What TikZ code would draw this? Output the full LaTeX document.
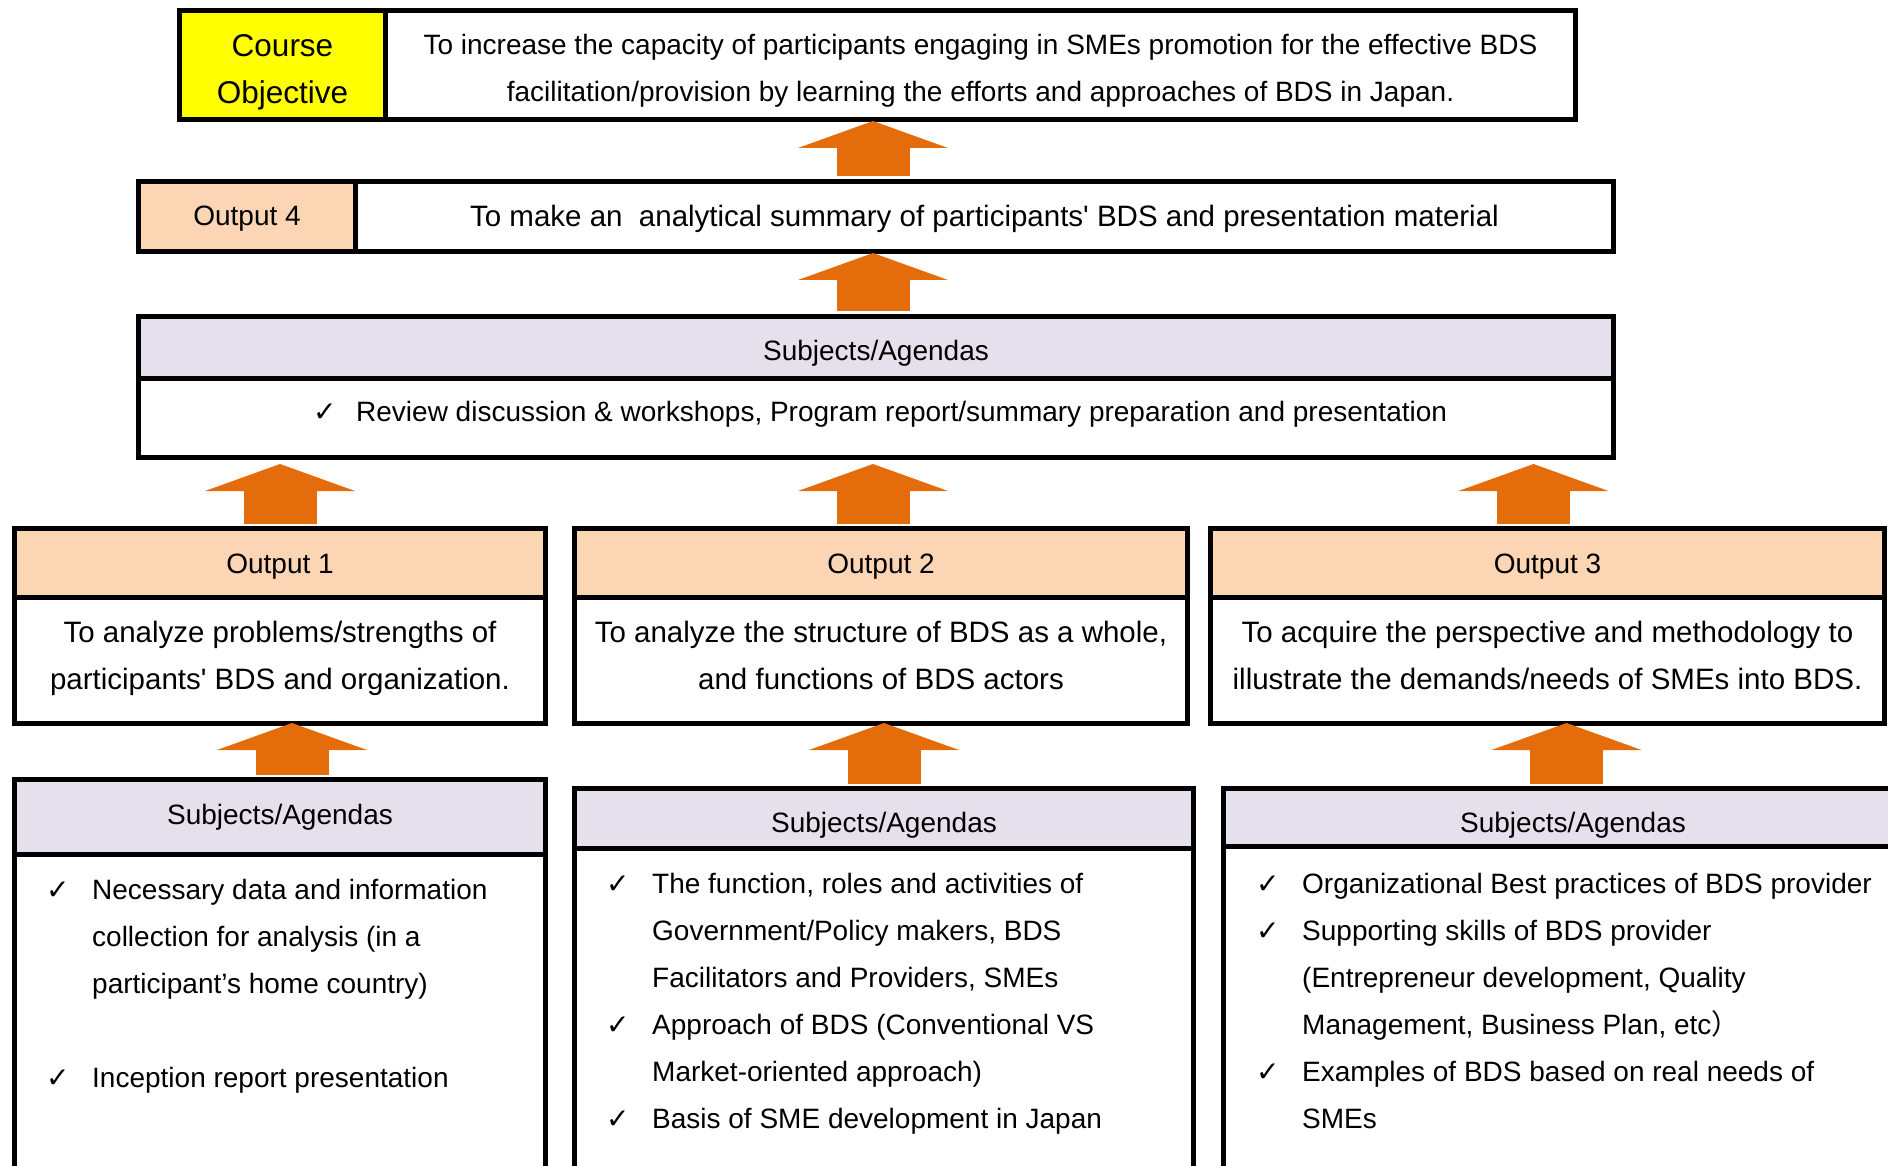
\documentclass[tikz,border=0pt]{standalone}
\usepackage{fontspec}
\setmainfont{Liberation Sans}
\newfontfamily\symfont{DejaVu Sans}
\newfontfamily\cjkfont{Noto Sans CJK JP}
\usetikzlibrary{arrows.meta}
\definecolor{objyellow}{HTML}{FFFF00}
\definecolor{outpeach}{HTML}{FCD5B5}
\definecolor{aglilac}{HTML}{E5E0EC}
\definecolor{arroworange}{HTML}{E46C0A}
\newcommand{\chk}{\makebox[46pt][l]{\symfont ✓}}
\newcommand{\ind}{\hspace*{46pt}}
\newcommand{\sq}{\textquotesingle}
\tikzset{
  box/.style={draw, line width=5pt, rectangle, inner sep=0pt, anchor=north west},
  txt/.style={inner sep=0pt, align=center},
  bigtxt/.style={txt, font=\fontsize{29.5}{47}\selectfont},
  bigarrow/.style={arroworange, line width=73pt, -{Triangle[width=150pt,length=27pt,line width=0pt]}, shorten <=2.5pt, shorten >=-1pt},
  list/.style={anchor=north west, inner sep=0pt, align=left}
}

\begin{document}
\begin{tikzpicture}[x=1pt,y=-1pt,font=\fontsize{28}{47}\selectfont]
\useasboundingbox (0,0) rectangle (1888,1166);
\clip (0,0) rectangle (1888,1166);
\coordinate (mid) at (873,0);

\node[box, fill=objyellow, minimum width=206pt, minimum height=109pt] (objhead) at (177,8) {};
\node[box, fill=white, minimum width=1190pt, minimum height=109pt] (objtext) at (383,8) {};
\node[txt, font=\fontsize{31.5}{47}\selectfont] (objheadtxt) at ([yshift=-7pt]objhead.center) {Course\\Objective};
\node[txt] (objtexttxt) at ([yshift=-6pt]objtext.center) {To increase the capacity of participants engaging in SMEs promotion for the effective BDS\\facilitation/provision by learning the efforts and approaches of BDS in Japan.};

\node[box, fill=outpeach, minimum width=217pt, minimum height=70pt] (out4head) at (136,179) {};
\node[box, fill=white, minimum width=1258pt, minimum height=70pt] (out4text) at (353,179) {};
\node[txt] (out4headtxt) at ([yshift=-2.5pt]out4head.center) {Output 4};
\node[bigtxt] (out4texttxt) at ([yshift=-2.5pt]out4text.center) {To make an \ analytical summary of participants\sq{} BDS and presentation material};

\node[box, fill=aglilac, minimum width=1475pt, minimum height=62pt] (agmidhead) at (136,314) {};
\node[box, fill=white, minimum width=1475pt, minimum height=79pt] (agmidbody) at (136,376) {};
\node[txt] (agmidheadtxt) at ([yshift=-6pt]agmidhead.center) {Subjects/Agendas};
\node[anchor=west, inner sep=0pt] (agmidtext) at (313,414.5) {\makebox[43pt][l]{\symfont ✓}Review discussion \& workshops, Program report/summary preparation and presentation};

\node[box, fill=outpeach, minimum width=531pt, minimum height=69pt] (out1head) at (12,526) {};
\node[box, fill=white, minimum width=531pt, minimum height=126pt] (out1body) at (12,595) {};
\node[box, fill=outpeach, minimum width=613pt, minimum height=69pt] (out2head) at (572,526) {};
\node[box, fill=white, minimum width=613pt, minimum height=126pt] (out2body) at (572,595) {};
\node[box, fill=outpeach, minimum width=674pt, minimum height=69pt] (out3head) at (1208,526) {};
\node[box, fill=white, minimum width=674pt, minimum height=126pt] (out3body) at (1208,595) {};
\node[txt] (out1headtxt) at ([yshift=-3.5pt]out1head.center) {Output 1};
\node[txt] (out2headtxt) at ([yshift=-3.5pt]out2head.center) {Output 2};
\node[txt] (out3headtxt) at ([yshift=-3.5pt]out3head.center) {Output 3};
\node[bigtxt] (out1bodytxt) at ([yshift=2.5pt]out1body.center) {To analyze problems/strengths of\\participants\sq{} BDS and organization.};
\node[bigtxt] (out2bodytxt) at ([yshift=5pt]out2body.center) {To analyze the structure of BDS as a whole,\\and functions of BDS actors};
\node[bigtxt] (out3bodytxt) at ([yshift=5pt]out3body.center) {To acquire the perspective and methodology to\\illustrate the demands/needs of SMEs into BDS.};

\node[box, fill=aglilac, minimum width=531pt, minimum height=75pt] (ag1head) at (12,777) {};
\node[box, fill=white, minimum width=531pt, minimum height=360pt] (ag1body) at (12,852) {};
\node[box, fill=aglilac, minimum width=619pt, minimum height=60pt] (ag2head) at (572,786) {};
\node[box, fill=white, minimum width=619pt, minimum height=360pt] (ag2body) at (572,846) {};
\node[box, fill=aglilac, minimum width=699pt, minimum height=58pt] (ag3head) at (1221,786) {};
\node[box, fill=white, minimum width=699pt, minimum height=360pt] (ag3body) at (1221,844) {};
\node[txt] (ag1headtxt) at (ag1head.center) {Subjects/Agendas};
\node[txt] (ag2headtxt) at ([yshift=-7pt]ag2head.center) {Subjects/Agendas};
\node[txt] (ag3headtxt) at ([yshift=-8pt]ag3head.center) {Subjects/Agendas};

\node[list] (ag1list) at (46,866) {\strut\chk Necessary data and information\\
\ind collection for analysis (in a\\
\ind participant’s home country)\\[47pt]
\chk Inception report presentation};
\node[list] (ag2list) at (606,860) {\strut\chk The function, roles and activities of\\
\ind Government/Policy makers, BDS\\
\ind Facilitators and Providers, SMEs\\
\chk Approach of BDS (Conventional VS\\
\ind Market-oriented approach)\\
\chk Basis of SME development in Japan};
\node[list] (ag3list) at (1256,860) {\strut\chk Organizational Best practices of BDS provider\\
\chk Supporting skills of BDS provider\\
\ind (Entrepreneur development, Quality\\
\ind Management, Business Plan, etc{\cjkfont ）}\\
\chk Examples of BDS based on real needs of\\
\ind SMEs};

\draw[bigarrow] (out4text.north -| mid) -- (objtext.south -| mid);
\draw[bigarrow] (agmidhead.north -| mid) -- (out4text.south -| mid);
\draw[bigarrow, shorten >=4pt] (out1head.north) -- (out1head.north |- agmidbody.south);
\draw[bigarrow, shorten >=4pt] ([xshift=-8pt]out2head.north) -- ([xshift=-8pt]out2head.north |- agmidbody.south);
\draw[bigarrow, shorten >=4pt] ([xshift=-14pt]out3head.north) -- ([xshift=-14pt]out3head.north |- agmidbody.south);
\draw[bigarrow, shorten >=-3pt] ([xshift=12pt]ag1head.north) -- ([xshift=12pt]ag1head.north |- out1body.south);
\draw[bigarrow, shorten >=-3pt] (ag2head.north) -- (ag2head.north |- out2body.south);
\draw[bigarrow, shorten >=-3pt] ([xshift=19pt]out3body.south |- ag3head.north) -- ([xshift=19pt]out3body.south);
\end{tikzpicture}
\end{document}
